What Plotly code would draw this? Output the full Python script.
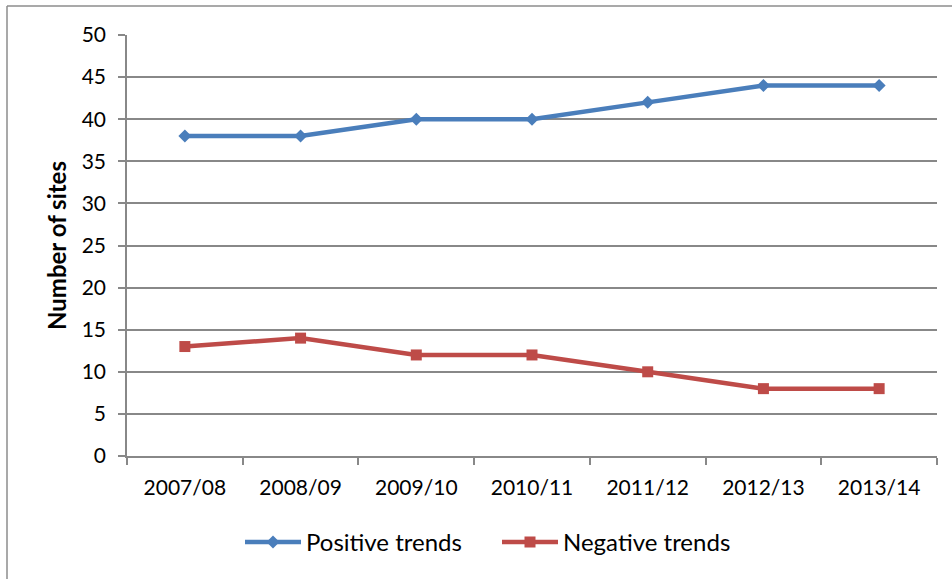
import plotly.graph_objects as go

years = ["2007/08", "2008/09", "2009/10", "2010/11", "2011/12", "2012/13", "2013/14"]
positive = [38, 38, 40, 40, 42, 44, 44]
negative = [13, 14, 12, 12, 10, 8, 8]
y_ticks = [0, 5, 10, 15, 20, 25, 30, 35, 40, 45, 50]

FONT = "Lato"
GRID = "#888888"

fig = go.Figure()
fig.add_trace(go.Scatter(
    x=years, y=positive, name="Positive trends", mode="lines+markers",
    line=dict(color="#4A7EBB", width=4.5),
    marker=dict(symbol="diamond", size=10, color="#4A7EBB"),
))
fig.add_trace(go.Scatter(
    x=years, y=negative, name="Negative trends", mode="lines+markers",
    line=dict(color="#BE4B48", width=4.5),
    marker=dict(symbol="square", size=11, color="#BE4B48"),
))

L, R, T, B = 127, 15, 35, 123
W, H = 952, 579
pw, ph = W - L - R, H - T - B

fig.update_layout(
    width=W, height=H,
    margin=dict(l=L, r=R, t=T, b=B),
    paper_bgcolor="white", plot_bgcolor="white",
    font=dict(family=FONT, size=21, color="black"),
    showlegend=True,
    legend=dict(orientation="h", x=(240 - L) / pw, xanchor="left", y=-0.205, yanchor="middle",
                font=dict(family=FONT, size=24), itemwidth=56, entrywidth=186,
                traceorder="normal"),
    xaxis=dict(
        type="category", showgrid=False, showline=True, linecolor=GRID, linewidth=1.5,
        ticks="outside", tickson="boundaries", ticklen=7, tickcolor=GRID, tickwidth=1.5,
        tickfont=dict(family=FONT, size=21), ticklabelstandoff=12, range=[-0.5, 6.5],
    ),
    yaxis=dict(
        range=[0, 50], tickvals=y_ticks, showgrid=True, gridcolor=GRID, gridwidth=1.5,
        showline=True, linecolor=GRID, linewidth=1.5, zeroline=False,
        ticks="outside", ticklen=7, tickcolor=GRID, tickwidth=1.5,
        tickfont=dict(family=FONT, size=21), ticklabelstandoff=8,
        title=dict(text="<b>Number of sites</b>", font=dict(family=FONT, size=24), standoff=8),
    ),
)

# outer chart frame (left and top edges visible)
bx = (7 - L) / pw
by = 1 + (T - 6) / ph
fig.add_shape(type="line", xref="paper", yref="paper", x0=bx, x1=bx, y0=-0.5, y1=by,
              line=dict(color="#8c8c8c", width=1.5))
fig.add_shape(type="line", xref="paper", yref="paper", x0=bx, x1=1.2, y0=by, y1=by,
              line=dict(color="#8c8c8c", width=1.5))

fig.write_html("out.html")
